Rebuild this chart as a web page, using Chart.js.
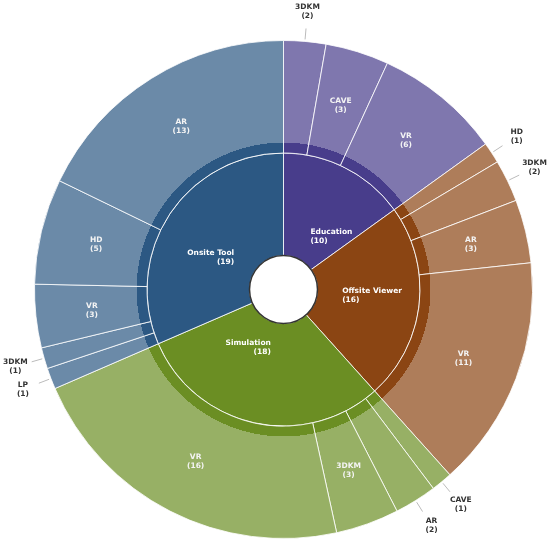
<!DOCTYPE html>
<html>
<head>
<meta charset="utf-8">
<script src="https://cdn.jsdelivr.net/npm/chart.js"></script>
<style>
  body { margin: 0; background: #fff; }
</style>
</head>
<body>
<canvas id="myChart" width="550" height="544"></canvas>
<script>
// inner ring: categories and their counts
var parents = ['Education', 'Offsite Viewer', 'Simulation', 'Onsite Tool'];
var parentCounts = [10, 16, 18, 19];

// outer ring: sub-categories, in clockwise order from the top
var childParents = ['Education', 'Education', 'Education',
  'Offsite Viewer', 'Offsite Viewer', 'Offsite Viewer', 'Offsite Viewer',
  'Simulation', 'Simulation', 'Simulation', 'Simulation',
  'Onsite Tool', 'Onsite Tool', 'Onsite Tool', 'Onsite Tool', 'Onsite Tool'];
var childLabels = ['3DKM', 'CAVE', 'VR',
  'HD', '3DKM', 'AR', 'VR',
  'CAVE', 'AR', '3DKM', 'VR',
  'LP', '3DKM', 'VR', 'HD', 'AR'];
var childValues = [2, 3, 6,
  1, 2, 3, 11,
  1, 2, 3, 16,
  1, 1, 3, 5, 13];

// the inner slices take the size of their children
var innerValues = parents.map(function(p) {
  var s = 0;
  childValues.forEach(function(v, i) { if (childParents[i] === p) s += v; });
  return s;
});

var darkColor = {
  'Education': '#483d8b',
  'Offsite Viewer': '#8b4513',
  'Simulation': '#6b8e23',
  'Onsite Tool': '#2c5883'
};
var lightColor = {
  'Education': '#7f77ae',
  'Offsite Viewer': '#ae7d5a',
  'Simulation': '#97b065',
  'Onsite Tool': '#6b8aa8'
};

// outer slices: a thin band in the parent colour, then the light colour
function outerFill(context) {
  var chart = context.chart;
  var area = chart.chartArea;
  var p = childParents[context.dataIndex];
  if (!area) return lightColor[p];
  var cx = (area.left + area.right) / 2;
  var cy = (area.top + area.bottom) / 2;
  var R = (Math.min(area.width, area.height) - 1) / 2;
  var g = chart.ctx.createRadialGradient(cx, cy, 0, cx, cy, R);
  g.addColorStop(0, darkColor[p]);
  g.addColorStop(0.59, darkColor[p]);
  g.addColorStop(0.59, lightColor[p]);
  g.addColorStop(1, lightColor[p]);
  return g;
}

function drawLines(ctx, lines, x, y) {
  ctx.fillText(lines[0], x, y - 4.5);
  ctx.fillText(lines[1], x, y + 4.5);
}

var labelPlugin = {
  id: 'sunLabels',
  afterDatasetsDraw: function(chart) {
    var ctx = chart.ctx;
    var outer = chart.getDatasetMeta(0).data;
    var inner = chart.getDatasetMeta(1).data;
    var cx = inner[0].x, cy = inner[0].y;
    ctx.save();

    // the hole in the middle
    ctx.beginPath();
    ctx.arc(cx, cy, inner[0].innerRadius, 0, 2 * Math.PI);
    ctx.lineWidth = 1.5;
    ctx.strokeStyle = '#333';
    ctx.stroke();

    ctx.font = 'bold 7.5px "DejaVu Sans"';
    ctx.textBaseline = 'middle';

    inner.forEach(function(el, i) {
      var mid = (el.startAngle + el.endAngle) / 2;
      var r = el.innerRadius + 25;
      ctx.textAlign = Math.cos(mid) >= 0 ? 'left' : 'right';
      ctx.fillStyle = '#ffffff';
      drawLines(ctx, [parents[i], '(' + parentCounts[i] + ')'],
        cx + r * Math.cos(mid), cy + r * Math.sin(mid));
    });

    outer.forEach(function(el, i) {
      var mid = (el.startAngle + el.endAngle) / 2;
      var span = el.endAngle - el.startAngle;
      var lines = [childLabels[i], '(' + childValues[i] + ')'];
      var c = Math.cos(mid), s = Math.sin(mid);
      ctx.textAlign = 'center';
      if (span > 12 * Math.PI / 180) {
        var r = (el.innerRadius + el.outerRadius) / 2;
        ctx.fillStyle = '#f4f4f4';
        drawLines(ctx, lines, cx + r * c, cy + r * s);
      } else {
        var r0 = el.outerRadius + 2, r1 = el.outerRadius + 13, rt = el.outerRadius + 30;
        ctx.beginPath();
        ctx.moveTo(cx + r0 * c, cy + r0 * s);
        ctx.lineTo(cx + r1 * c, cy + r1 * s);
        ctx.lineWidth = 1;
        ctx.strokeStyle = '#bbbbbb';
        ctx.stroke();
        ctx.fillStyle = '#333333';
        drawLines(ctx, lines, cx + rt * c, cy + rt * s);
      }
    });
    ctx.restore();
  }
};

const ctx = document.getElementById('myChart');

new Chart(ctx, {
  type: 'doughnut',
  data: {
    labels: childLabels,
    datasets: [{
      label: 'Sub-categories',
      data: childValues,
      backgroundColor: outerFill,
      borderColor: 'rgba(255,255,255,0.8)',
      borderWidth: 1,
      weight: 112.5
    }, {
      label: 'Categories',
      data: innerValues,
      backgroundColor: parents.map(function(p) { return darkColor[p]; }),
      borderColor: 'rgba(255,255,255,0.8)',
      borderWidth: 1,
      weight: 102.5
    }]
  },
  options: {
    responsive: false,
    animation: false,
    cutout: '13.65%',
    layout: { padding: { left: 34, top: 40, right: 17, bottom: 5 } },
    plugins: {
      legend: { display: false },
      tooltip: { enabled: false }
    }
  },
  plugins: [labelPlugin]
});
</script>
</body>
</html>
